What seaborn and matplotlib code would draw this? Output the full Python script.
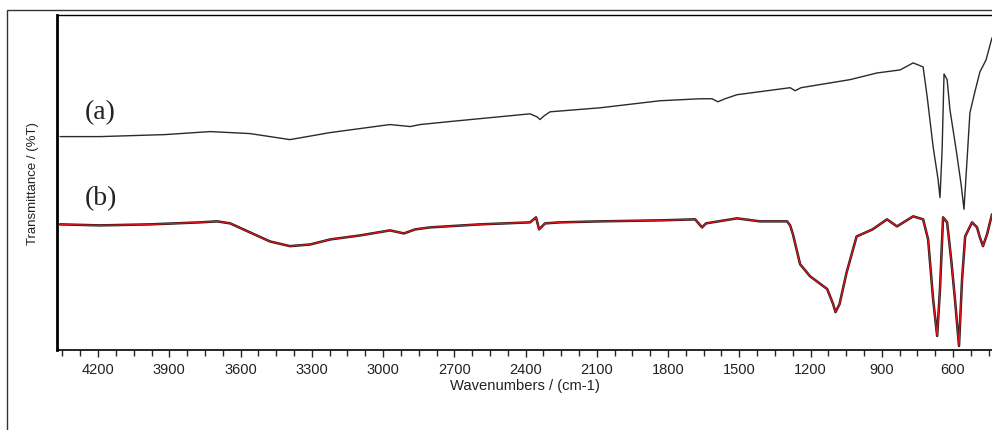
import matplotlib
matplotlib.use("Agg")
import matplotlib.pyplot as plt
from matplotlib.patches import Rectangle
from matplotlib.ticker import MultipleLocator
import seaborn as sns
import pandas as pd

# curve (a) - black
wn_a = [4360, 4192, 3918, 3728, 3560, 3392, 3223, 2971, 2886, 2844, 2718, 2381, 2352,
        2339, 2322, 2297, 2086, 1834, 1665, 1615, 1590, 1560, 1510, 1286, 1265, 1240,
        1034, 920, 823, 768, 726, 709, 684, 663, 655, 646, 638, 625, 613, 587, 566,
        554, 541, 529, 508, 487, 461, 444, 436]
t_a = [63.7, 63.7, 64.3, 65.2, 64.6, 62.8, 64.9, 67.3, 66.7, 67.3, 68.2, 70.5, 69.6,
       68.8, 69.9, 71.1, 72.3, 74.4, 75.0, 75.0, 74.1, 75.0, 76.2, 78.3, 77.4, 78.3,
       80.7, 82.7, 83.6, 85.7, 84.5, 75.6, 60.7, 50.9, 45.5, 59.8, 82.4, 80.7, 71.7,
       59.8, 49.4, 42.0, 56.8, 70.8, 77.1, 83.0, 86.6, 91.1, 93.2]

# curve (b) - red
wn_b = [4360, 4192, 3981, 3771, 3699, 3644, 3560, 3476, 3392, 3307, 3223, 3097, 2971,
        2912, 2865, 2802, 2592, 2381, 2356, 2343, 2318, 2255, 2086, 1834, 1686, 1657,
        1640, 1510, 1413, 1299, 1286, 1274, 1244, 1202, 1130, 1105, 1095, 1078, 1048,
        1006, 939, 878, 836, 768, 726, 705, 684, 667, 655, 642, 625, 608, 592, 575,
        562, 549, 520, 499, 487, 474, 457, 436]
t_b = [37.5, 37.2, 37.5, 38.1, 38.4, 37.8, 35.1, 32.4, 31.0, 31.5, 33.0, 34.2, 35.7,
       34.8, 36.0, 36.6, 37.5, 38.1, 39.6, 36.0, 37.8, 38.1, 38.4, 38.7, 39.0, 36.6,
       37.8, 39.3, 38.4, 38.4, 37.2, 34.5, 25.6, 22.0, 18.2, 13.7, 11.3, 13.7, 23.2,
       33.9, 36.0, 39.0, 36.9, 39.9, 39.0, 33.0, 15.2, 4.2, 18.2, 39.6, 38.1, 27.1,
       15.2, 1.2, 21.1, 33.9, 38.1, 36.6, 33.6, 31.0, 34.5, 40.5]

x_ticks = [4200, 3900, 3600, 3300, 3000, 2700, 2400, 2100, 1800, 1500, 1200, 900, 600]

sns.set_style("white")
plt.rcParams['font.family'] = ['Liberation Sans', 'DejaVu Sans']

fig = plt.figure(figsize=(9.92, 4.31), dpi=100)
ax = fig.add_axes([57 / 992, 1 - 351 / 431, 1 - 57 / 992, (351 - 16) / 431])

df_a = pd.DataFrame({'wn': wn_a, 't': t_a})
df_b = pd.DataFrame({'wn': wn_b, 't': t_b})
sns.lineplot(data=df_a, x='wn', y='t', ax=ax, color='#2a2a2a', lw=1.0)
sns.lineplot(data=df_b, x='wn', y='t', ax=ax, color='#1a1a1a', lw=1.8)
sns.lineplot(data=df_b, x='wn', y='t', ax=ax, color='#e0141c', lw=0.9)

ax.set_xlim(4373, 436)
ax.set_ylim(0, 100)
ax.set_xticks(x_ticks)
ax.xaxis.set_minor_locator(MultipleLocator(75))
ax.set_yticks([])
ax.tick_params(axis='x', which='major', direction='out', length=5, width=1,
               labelsize=10.5, pad=4, bottom=True, labelcolor='#222222')
ax.tick_params(axis='x', which='minor', direction='out', length=4, width=1, bottom=True)

ax.set_xlabel('Wavenumbers / (cm-1)', fontsize=10.6, labelpad=1, color='#222222')
ax.set_ylabel('Transmittance / (%T)', fontsize=9.5, labelpad=13, color='#222222')

for side in ['left', 'bottom', 'top']:
    ax.spines[side].set_color('black')
ax.spines['left'].set_linewidth(2)
ax.spines['bottom'].set_linewidth(1.2)
ax.spines['top'].set_linewidth(1)
ax.spines['right'].set_visible(False)

fig.text(85 / 992, 1 - 113 / 431, '(a)', fontsize=20, family='Liberation Serif',
         va='center', color='#222222')
fig.text(85 / 992, 1 - 199 / 431, '(b)', fontsize=20, family='Liberation Serif',
         va='center', color='#222222')

# outer frame of the scanned figure
fig.patches.append(Rectangle((7 / 992, -0.1), 1.1, 1 - 11 / 431 + 0.1,
                             transform=fig.transFigure, fill=False,
                             edgecolor='#333333', lw=1))

fig.savefig('out.png', dpi=100)
